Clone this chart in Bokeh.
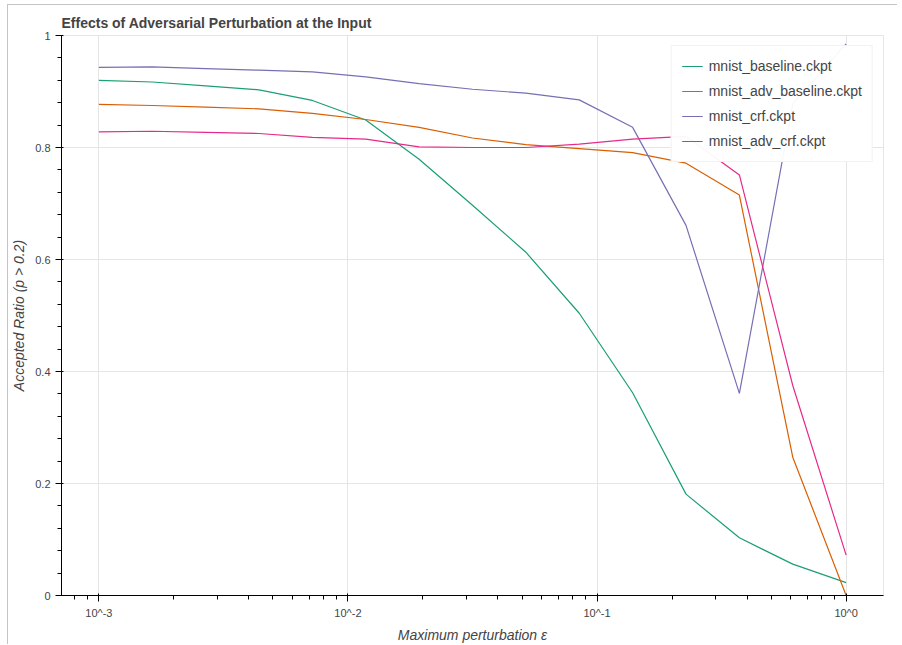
from bokeh.plotting import figure
from bokeh.models import Range1d, CustomJSTickFormatter, Legend, LegendItem
from bokeh.embed import file_html
from bokeh.resources import INLINE

eps = [0.001, 0.001638, 0.002683, 0.004394, 0.007197, 0.011788, 0.019307,
       0.031623, 0.051795, 0.084834, 0.138950, 0.227585, 0.372759, 0.610540, 1.0]

mnist_baseline = [0.920, 0.917, 0.910, 0.903, 0.884, 0.849, 0.779, 0.697,
                  0.613, 0.504, 0.362, 0.181, 0.103, 0.056, 0.023]
mnist_adv_baseline = [0.877, 0.875, 0.872, 0.869, 0.861, 0.850, 0.836, 0.817,
                      0.805, 0.798, 0.791, 0.772, 0.715, 0.247, 0.0]
mnist_crf = [0.943, 0.944, 0.941, 0.938, 0.935, 0.926, 0.914, 0.904,
             0.897, 0.885, 0.836, 0.661, 0.361, 0.878, 0.985]
mnist_adv_crf = [0.828, 0.829, 0.827, 0.825, 0.818, 0.815, 0.801, 0.800,
                 0.800, 0.806, 0.815, 0.820, 0.751, 0.375, 0.072]

series_names = ["mnist_baseline.ckpt", "mnist_adv_baseline.ckpt",
                "mnist_crf.ckpt", "mnist_adv_crf.ckpt"]
series_values = [mnist_baseline, mnist_adv_baseline, mnist_crf, mnist_adv_crf]
colors = ["#1b9e77", "#d95f02", "#7570b3", "#e7298a"]

FONT = "Liberation Sans"

p = figure(width=890, height=640, x_axis_type="log", y_range=Range1d(0, 1),
           output_backend="svg", toolbar_location=None,
           title="Effects of Adversarial Perturbation at the Input",
           x_axis_label="Maximum perturbation ε",
           y_axis_label="Accepted Ratio (p > 0.2)",
           min_border_left=50, min_border_right=15, min_border_top=30,
           min_border_bottom=40)
p.styles = {"margin-left": "7px", "margin-top": "4px",
            "border-left": "1px solid #c4c4c4", "border-top": "1px solid #c4c4c4"}

p.title.text_font = FONT
p.title.text_font_size = "14px"
p.title.text_color = "#444444"

for ax in (p.xaxis[0], p.yaxis[0]):
    ax.axis_label_text_font = FONT
    ax.axis_label_text_font_size = "14px"
    ax.axis_label_text_color = "#444444"
    ax.major_label_text_font = FONT
    ax.major_label_text_font_size = "11px"
    ax.major_label_text_color = "#444444"

p.xaxis[0].formatter = CustomJSTickFormatter(
    code="return '10^' + Math.round(Math.log10(tick));")

items = []
for name, vals, c in zip(series_names, series_values, colors):
    r = p.line(eps, vals, line_color=c, line_width=1.2)
    items.append(LegendItem(label=name, renderers=[r]))

legend = Legend(items=items, location="top_right")
legend.label_text_font = FONT
legend.label_text_font_size = "14px"
legend.label_text_color = "#444444"
legend.spacing = 5
legend.glyph_width = 21
legend.label_standoff = 6
p.add_layout(legend, "center")

open("out.html", "w").write(file_html(p, INLINE))
